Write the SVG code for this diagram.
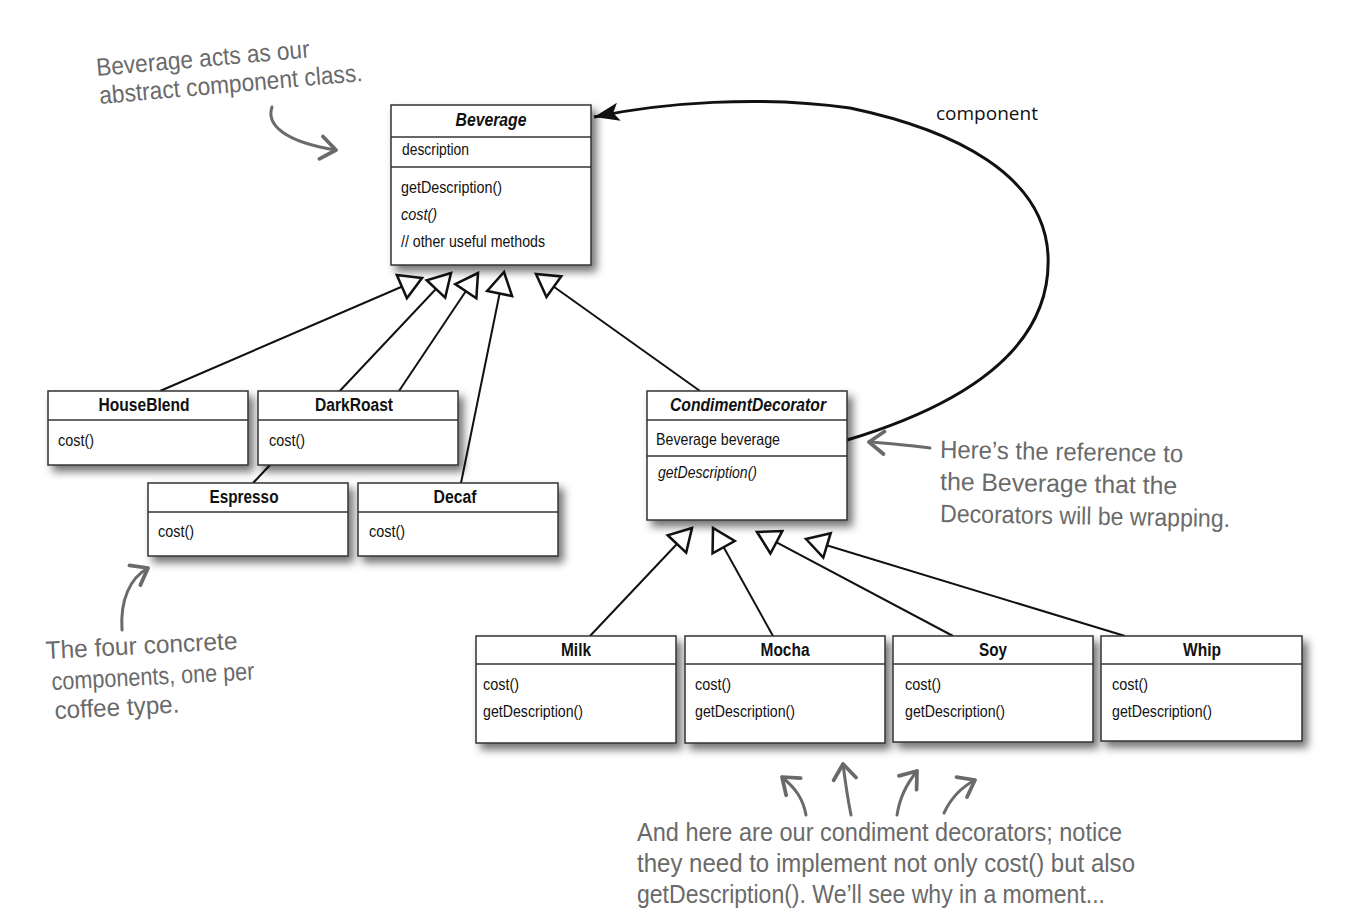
<svg xmlns="http://www.w3.org/2000/svg" width="1347" height="920" viewBox="0 0 1347 920">
<defs>
<filter id="sh" x="-10%" y="-10%" width="130%" height="140%">
<feDropShadow dx="5" dy="6" stdDeviation="4" flood-color="#000" flood-opacity="0.55"/>
</filter>
<marker id="tri" markerUnits="userSpaceOnUse" markerWidth="30" markerHeight="30" viewBox="-22 -13 25 26" refX="0" refY="0" orient="auto">
<path d="M0,0 L-19,-11 L-19,11 Z" fill="#fff" stroke="#111" stroke-width="2.2" stroke-linejoin="miter"/>
</marker>
<marker id="solid" markerUnits="userSpaceOnUse" markerWidth="30" markerHeight="30" viewBox="-24 -12 26 24" refX="0" refY="0" orient="auto">
<path d="M0,0 L-22,-8 L-17,0 L-22,8 Z" fill="#111"/>
</marker>
<marker id="chev" markerUnits="userSpaceOnUse" markerWidth="30" markerHeight="30" viewBox="-16 -12 20 24" refX="0" refY="0" orient="auto">
<path d="M-12,-9 L0,0 L-12,9" fill="none" stroke="#6a6a6a" stroke-width="3" stroke-linecap="round" stroke-linejoin="round"/>
</marker>
</defs>
<style>
.box{fill:#fff;stroke:#333;stroke-width:1.5}
.sep{stroke:#333;stroke-width:1.5}
.ttl{font-family:"Liberation Sans",Arial,sans-serif;font-weight:bold;font-size:18px;fill:#111;text-anchor:middle}
.ttli{font-style:italic}
.txt{font-family:"Liberation Sans",Arial,sans-serif;font-size:16.5px;fill:#111}
.it{font-style:italic}
.gen{fill:none;stroke:#111;stroke-width:2}
.note{font-family:"Liberation Sans","DejaVu Sans",sans-serif;font-size:25px;fill:#6a6a6a}
.na{fill:none;stroke:#6a6a6a;stroke-width:3;stroke-linecap:round}
.lbl{font-family:"Open Sans","Liberation Sans",sans-serif;font-size:19px;fill:#111}
</style>
<rect width="1347" height="920" fill="#fff"/>

<g id="connectors">
<path class="gen" d="M160,391 L422,278" marker-end="url(#tri)"/>
<path class="gen" d="M253,483 L451,273" marker-end="url(#tri)"/>
<path class="gen" d="M399,391 L478,273" marker-end="url(#tri)"/>
<path class="gen" d="M461,483 L504,272" marker-end="url(#tri)"/>
<path class="gen" d="M700,391 L536,274" marker-end="url(#tri)"/>
<path class="gen" d="M590,636 L692,528" marker-end="url(#tri)"/>
<path class="gen" d="M773,636 L713,528" marker-end="url(#tri)"/>
<path class="gen" d="M953,636 L757,532" marker-end="url(#tri)"/>
<path class="gen" d="M1125,636 L806,539" marker-end="url(#tri)"/>
<path d="M847,440 C980,400 1052,340 1048,255 C1044,175 955,130 850,108 C760,95 660,103 594,117" fill="none" stroke="#111" stroke-width="3" marker-end="url(#solid)"/>
<text class="lbl" x="936" y="120">component</text>
</g>

<g id="beverage">
<rect class="box" x="391" y="105" width="200" height="160" filter="url(#sh)"/>
<line class="sep" x1="391" y1="137" x2="591" y2="137"/>
<line class="sep" x1="391" y1="167" x2="591" y2="167"/>
<text class="ttl ttli" x="491" y="126" textLength="71" lengthAdjust="spacingAndGlyphs">Beverage</text>
<text class="txt" x="402" y="155" textLength="67" lengthAdjust="spacingAndGlyphs">description</text>
<text class="txt" x="401" y="193" textLength="101" lengthAdjust="spacingAndGlyphs">getDescription()</text>
<text class="txt it" x="401" y="220" textLength="36" lengthAdjust="spacingAndGlyphs">cost()</text>
<text class="txt" x="401" y="247" textLength="144" lengthAdjust="spacingAndGlyphs">// other useful methods</text>
</g>

<g id="houseblend">
<rect class="box" x="48" y="391" width="200" height="74" filter="url(#sh)"/>
<line class="sep" x1="48" y1="420" x2="248" y2="420"/>
<text class="ttl" x="144" y="411" textLength="91" lengthAdjust="spacingAndGlyphs">HouseBlend</text>
<text class="txt" x="58" y="446" textLength="36" lengthAdjust="spacingAndGlyphs">cost()</text>
</g>
<g id="darkroast">
<rect class="box" x="258" y="391" width="200" height="74" filter="url(#sh)"/>
<line class="sep" x1="258" y1="420" x2="458" y2="420"/>
<text class="ttl" x="354" y="411" textLength="78" lengthAdjust="spacingAndGlyphs">DarkRoast</text>
<text class="txt" x="269" y="446" textLength="36" lengthAdjust="spacingAndGlyphs">cost()</text>
</g>
<g id="espresso">
<rect class="box" x="148" y="483" width="200" height="73" filter="url(#sh)"/>
<line class="sep" x1="148" y1="512" x2="348" y2="512"/>
<text class="ttl" x="244" y="503" textLength="69" lengthAdjust="spacingAndGlyphs">Espresso</text>
<text class="txt" x="158" y="537" textLength="36" lengthAdjust="spacingAndGlyphs">cost()</text>
</g>
<g id="decaf">
<rect class="box" x="358" y="483" width="200" height="73" filter="url(#sh)"/>
<line class="sep" x1="358" y1="512" x2="558" y2="512"/>
<text class="ttl" x="455" y="503" textLength="43" lengthAdjust="spacingAndGlyphs">Decaf</text>
<text class="txt" x="369" y="537" textLength="36" lengthAdjust="spacingAndGlyphs">cost()</text>
</g>

<g id="condimentdecorator">
<rect class="box" x="647" y="391" width="200" height="129" filter="url(#sh)"/>
<line class="sep" x1="647" y1="420" x2="847" y2="420"/>
<line class="sep" x1="647" y1="456" x2="847" y2="456"/>
<text class="ttl ttli" x="748" y="411" textLength="156" lengthAdjust="spacingAndGlyphs">CondimentDecorator</text>
<text class="txt" x="656" y="445" textLength="124" lengthAdjust="spacingAndGlyphs">Beverage beverage</text>
<text class="txt it" x="658" y="478" textLength="99" lengthAdjust="spacingAndGlyphs">getDescription()</text>
</g>

<g id="milk">
<rect class="box" x="476" y="636" width="200" height="107" filter="url(#sh)"/>
<line class="sep" x1="476" y1="664" x2="676" y2="664"/>
<text class="ttl" x="576" y="656" textLength="30" lengthAdjust="spacingAndGlyphs">Milk</text>
<text class="txt" x="483" y="690" textLength="36" lengthAdjust="spacingAndGlyphs">cost()</text>
<text class="txt" x="483" y="717" textLength="100" lengthAdjust="spacingAndGlyphs">getDescription()</text>
</g>
<g id="mocha">
<rect class="box" x="685" y="636" width="200" height="107" filter="url(#sh)"/>
<line class="sep" x1="685" y1="664" x2="885" y2="664"/>
<text class="ttl" x="785" y="656" textLength="49" lengthAdjust="spacingAndGlyphs">Mocha</text>
<text class="txt" x="695" y="690" textLength="36" lengthAdjust="spacingAndGlyphs">cost()</text>
<text class="txt" x="695" y="717" textLength="100" lengthAdjust="spacingAndGlyphs">getDescription()</text>
</g>
<g id="soy">
<rect class="box" x="893" y="636" width="200" height="106" filter="url(#sh)"/>
<line class="sep" x1="893" y1="664" x2="1093" y2="664"/>
<text class="ttl" x="993" y="656" textLength="28" lengthAdjust="spacingAndGlyphs">Soy</text>
<text class="txt" x="905" y="690" textLength="36" lengthAdjust="spacingAndGlyphs">cost()</text>
<text class="txt" x="905" y="717" textLength="100" lengthAdjust="spacingAndGlyphs">getDescription()</text>
</g>
<g id="whip">
<rect class="box" x="1101" y="636" width="201" height="105" filter="url(#sh)"/>
<line class="sep" x1="1101" y1="664" x2="1302" y2="664"/>
<text class="ttl" x="1202" y="656" textLength="38" lengthAdjust="spacingAndGlyphs">Whip</text>
<text class="txt" x="1112" y="690" textLength="36" lengthAdjust="spacingAndGlyphs">cost()</text>
<text class="txt" x="1112" y="717" textLength="100" lengthAdjust="spacingAndGlyphs">getDescription()</text>
</g>

<g id="note-top">
<text class="note" transform="rotate(-5 97 76)" x="97" y="76" textLength="214" lengthAdjust="spacingAndGlyphs">Beverage acts as our</text>
<text class="note" transform="rotate(-5 100 104)" x="100" y="104" textLength="264" lengthAdjust="spacingAndGlyphs">abstract component class.</text>
<path class="na" d="M272,107 C266,125 285,142 336,150" marker-end="url(#chev)"/>
</g>
<g id="note-left">
<text class="note" transform="rotate(-3 46 659)" x="46" y="659" textLength="192" lengthAdjust="spacingAndGlyphs">The four concrete</text>
<text class="note" transform="rotate(-3 52 690)" x="52" y="690" textLength="203" lengthAdjust="spacingAndGlyphs">components, one per</text>
<text class="note" transform="rotate(-3 55 719)" x="55" y="719" textLength="125" lengthAdjust="spacingAndGlyphs">coffee type.</text>
<path class="na" d="M122,630 C120,600 130,578 148,568" marker-end="url(#chev)"/>
</g>
<g id="note-right">
<text class="note" transform="rotate(1 940 458)" x="940" y="458" textLength="243" lengthAdjust="spacingAndGlyphs">Here’s the reference to</text>
<text class="note" transform="rotate(1 940 490)" x="940" y="490" textLength="237" lengthAdjust="spacingAndGlyphs">the Beverage that the</text>
<text class="note" transform="rotate(1 940 522)" x="940" y="522" textLength="290" lengthAdjust="spacingAndGlyphs">Decorators will be wrapping.</text>
<path class="na" d="M930,448 C905,445 890,443 869,442" marker-end="url(#chev)"/>
</g>
<g id="note-bottom">
<text class="note" x="637" y="841" textLength="485" lengthAdjust="spacingAndGlyphs">And here are our condiment decorators; notice</text>
<text class="note" x="637" y="872" textLength="498" lengthAdjust="spacingAndGlyphs">they need to implement not only cost() but also</text>
<text class="note" x="637" y="903" textLength="468" lengthAdjust="spacingAndGlyphs">getDescription(). We’ll see why in a moment...</text>
<path class="na" d="M806,815 C803,798 795,788 782,777" marker-end="url(#chev)"/>
<path class="na" d="M851,815 C847,795 845,780 843,764" marker-end="url(#chev)"/>
<path class="na" d="M897,815 C900,797 906,785 917,771" marker-end="url(#chev)"/>
<path class="na" d="M944,813 C950,800 960,788 975,780" marker-end="url(#chev)"/>
</g>
</svg>
